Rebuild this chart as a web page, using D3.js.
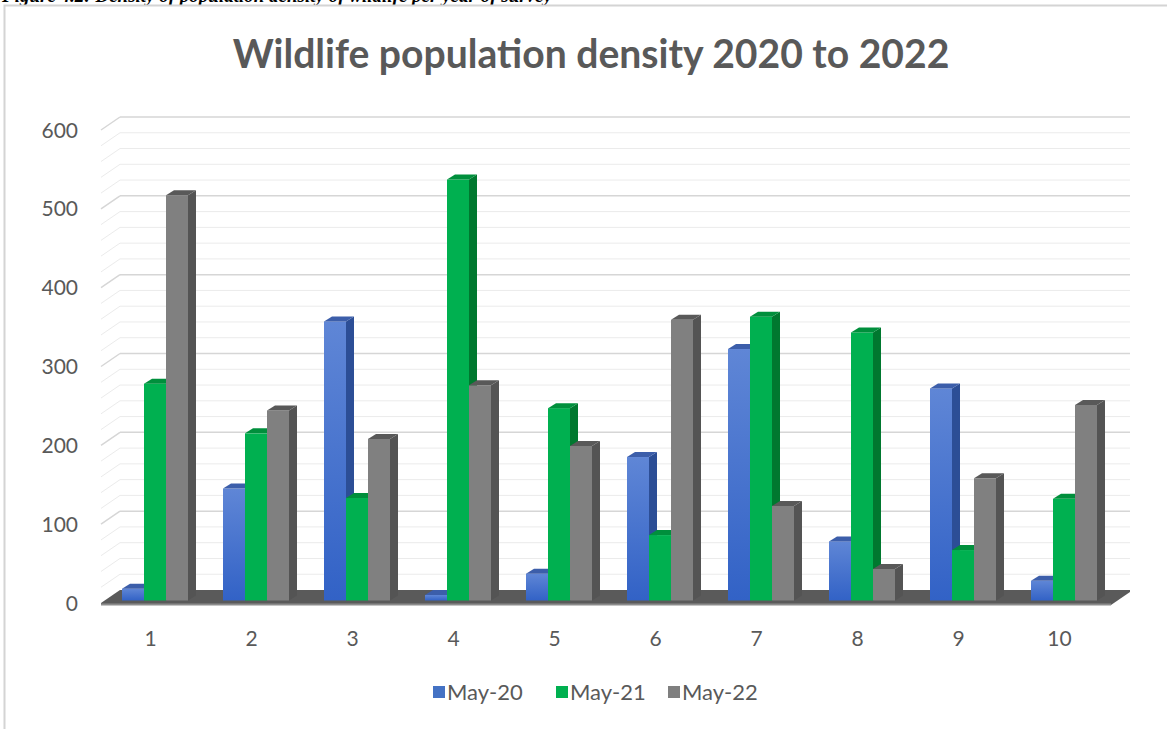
<!DOCTYPE html>
<html>
<head>
<meta charset="utf-8">
<script src="https://cdn.jsdelivr.net/npm/d3@7"></script>
<style>
  html, body { margin: 0; padding: 0; background: #ffffff; }
  svg { display: block; }
</style>
</head>
<body>
<svg id="chart" width="1167" height="729"></svg>
<script>
// Survey zones 1–10, counts per May survey
const categories = ["1", "2", "3", "4", "5", "6", "7", "8", "9", "10"];
const seriesNames = ["May-20", "May-21", "May-22"];
const may20 = [15, 142, 354, 7, 34, 182, 319, 75, 269, 25];
const may21 = [275, 212, 130, 534, 244, 83, 360, 340, 64, 129];
const may22 = [514, 241, 205, 273, 196, 356, 120, 40, 155, 248];
const yTicks = [0, 100, 200, 300, 400, 500, 600];
const titleText = "Wildlife population density 2020 to 2022";
const captionText = "Figure 4.2: Density of population density of wildlife per year of survey";

const seriesValues = [may20, may21, may22];

const svg = d3.select("#chart");
const FONT = "Lato, 'Open Sans', 'DejaVu Sans', sans-serif";

// Oblique 3D: walls recede by (wallDx, wallDy); columns sit slightly behind the floor front
const wallDx = 19, wallDy = -13;
const barZx = 3.5, barZy = -2.5;
const barDx = 8, barDy = -5;

const x = d3.scaleBand().domain(categories).range([101, 1111]).paddingInner(0).paddingOuter(0);
const y = d3.scaleLinear().domain([0, 600]).range([603, 130]);
const clusterW = 66;
const xs = d3.scaleBand().domain(seriesNames).range([0, clusterW]);

// caption of the surrounding document, running off the top edge
svg.append("text")
  .attr("x", 2).attr("y", 2)
  .attr("font-family", "'Liberation Serif', 'DejaVu Serif', serif")
  .attr("font-style", "italic").attr("font-weight", "bold")
  .attr("font-size", 19).attr("fill", "#000")
  .text(captionText);

// chart frame
svg.append("rect")
  .attr("x", 4.5).attr("y", 5.5).attr("width", 1300).attr("height", 900)
  .attr("fill", "#ffffff").attr("stroke", "#d4d4d4").attr("stroke-width", 2);

// gradient for the blue columns
const defs = svg.append("defs");
const gBlue = defs.append("linearGradient").attr("id", "blueFront")
  .attr("x1", 0).attr("y1", 0).attr("x2", 0).attr("y2", 1);
gBlue.append("stop").attr("offset", "0%").attr("stop-color", "#5f86d6");
gBlue.append("stop").attr("offset", "100%").attr("stop-color", "#3262c6");

const palette = {
  "May-20": { front: "url(#blueFront)", side: "#2c4e96", top: "#3c5eaa", key: "#4472c4" },
  "May-21": { front: "#00b050", side: "#00782f", top: "#008f3c", key: "#00b050" },
  "May-22": { front: "#808080", side: "#545454", top: "#595959", key: "#7f7f7f" }
};

// gridlines on the back and side walls (minor every 20, major every 100)
const gridVals = d3.range(20, 601, 20);
const grid = svg.append("g");
gridVals.forEach(v => {
  const major = v % 100 === 0;
  const col = major ? "#d6d6d6" : "#ebebeb";
  const sw = major ? 1.5 : 1;
  const yf = y(v), yb = y(v) + wallDy;
  grid.append("line")
    .attr("x1", x.range()[0] + wallDx).attr("x2", x.range()[1] + wallDx)
    .attr("y1", yb).attr("y2", yb)
    .attr("stroke", col).attr("stroke-width", sw);
  grid.append("line")
    .attr("x1", x.range()[0]).attr("y1", yf)
    .attr("x2", x.range()[0] + wallDx).attr("y2", yb)
    .attr("stroke", col).attr("stroke-width", sw);
});

// floor slab
const x0 = x.range()[0], x1 = x.range()[1], y0 = y(0);
svg.append("polygon")
  .attr("points", [[x0, y0 + 2], [x1, y0 + 2], [x1 + wallDx, y0 + 2 + wallDy], [x1 + wallDx, y0 + wallDy], [x0 + wallDx, y0 + wallDy], [x0, y0]].map(p => p.join(",")).join(" "))
  .attr("fill", "#5a5a5a");
svg.append("rect")
  .attr("x", x0).attr("y", y0 + 0.5).attr("width", x1 - x0).attr("height", 2)
  .attr("fill", "#8c8c8c");

// columns
const bars = svg.append("g");
categories.forEach((c, i) => {
  seriesNames.forEach((s, j) => {
    const v = seriesValues[j][i];
    const w = xs.bandwidth();
    const bx = x(c) + (x.bandwidth() - clusterW) / 2 + barZx + xs(s);
    const yb = y(0) + barZy;
    const yt = y(v) + barZy;
    const p = palette[s];
    const g = bars.append("g");
    g.append("rect").attr("x", bx).attr("y", yt).attr("width", w).attr("height", yb - yt)
      .attr("fill", p.front);
    g.append("polygon")
      .attr("points", [[bx + w, yt], [bx + w + barDx, yt + barDy], [bx + w + barDx, yb + barDy], [bx + w, yb]].map(q => q.join(",")).join(" "))
      .attr("fill", p.side);
    g.append("polygon")
      .attr("points", [[bx, yt], [bx + w, yt], [bx + w + barDx, yt + barDy], [bx + barDx, yt + barDy]].map(q => q.join(",")).join(" "))
      .attr("fill", p.top);
  });
});

// value axis labels
svg.append("g").selectAll("text").data(yTicks).join("text")
  .attr("x", 78).attr("y", d => y(d)).attr("dy", "0.36em")
  .attr("text-anchor", "end")
  .attr("font-family", FONT).attr("font-size", 21).attr("fill", "#595959")
  .text(d => d);

// category axis labels
svg.append("g").selectAll("text").data(categories).join("text")
  .attr("x", d => x(d) + x.bandwidth() / 2 - 1).attr("y", 638).attr("dy", "0.36em")
  .attr("text-anchor", "middle")
  .attr("font-family", FONT).attr("font-size", 21).attr("fill", "#595959")
  .text(d => d);

// title, sized to span its line
const title = svg.append("text")
  .attr("x", 591).attr("y", 68)
  .attr("text-anchor", "middle")
  .attr("font-family", FONT).attr("font-weight", "bold")
  .attr("font-size", 34).attr("fill", "#595959")
  .text(titleText);
const tw = title.node().getComputedTextLength();
title.attr("font-size", 34 * 717 / tw);

// legend
const legendX = [433, 556, 668];
const legend = svg.append("g");
seriesNames.forEach((s, j) => {
  legend.append("rect").attr("x", legendX[j]).attr("y", 686).attr("width", 12).attr("height", 12)
    .attr("fill", palette[s].key);
  legend.append("text").attr("x", legendX[j] + 14).attr("y", 692).attr("dy", "0.36em")
    .attr("font-family", FONT).attr("font-size", 22).attr("fill", "#595959")
    .text(s);
});
</script>
</body>
</html>
